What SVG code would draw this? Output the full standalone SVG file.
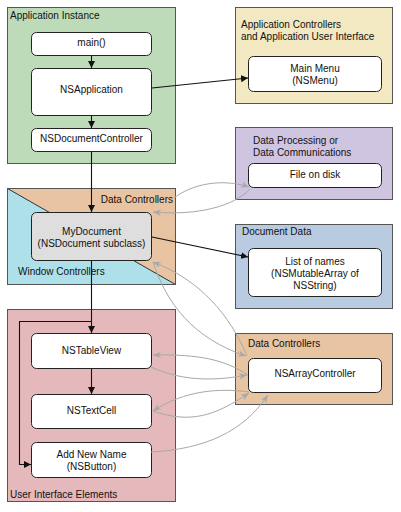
<svg xmlns="http://www.w3.org/2000/svg" width="401" height="512" viewBox="0 0 401 512">
<defs>
<marker id="ab" viewBox="0 0 10 10" refX="10" refY="5" markerWidth="7" markerHeight="7" markerUnits="userSpaceOnUse" orient="auto"><path d="M0,0 L10,5 L0,10 z" fill="#111"/></marker>
<marker id="ag" viewBox="0 0 10 10" refX="10" refY="5" markerWidth="8" markerHeight="8" markerUnits="userSpaceOnUse" orient="auto"><path d="M0,1 L10,5 L0,9 L3,5 z" fill="#a8a8a8"/></marker>
</defs>
<style>
.c{stroke:#555;stroke-width:1}
.n{fill:#fff;stroke:#222;stroke-width:1}
.t{font-family:"Liberation Sans",Arial,sans-serif;font-size:10px;fill:#111}
.m{text-anchor:middle}
.k{fill:none;stroke:#111;stroke-width:1.1}
.g{fill:none;stroke:#a8a8a8;stroke-width:1}
</style>
<rect width="401" height="512" fill="#fff"/>
<g id="app-instance">
<rect class="c" x="7.5" y="7.5" width="168" height="156" fill="#bedbb9"/>
<text class="t" x="10" y="18.5">Application Instance</text>
</g>
<g id="app-controllers">
<rect class="c" x="235.5" y="7.5" width="157" height="96" fill="#f2e8c1"/>
<text class="t" x="241" y="28">Application Controllers</text>
<text class="t" x="241" y="40">and Application User Interface</text>
</g>
<g id="data-processing">
<rect class="c" x="235.5" y="127.5" width="157" height="72" fill="#d0c5e1"/>
<text class="t" x="253" y="144">Data Processing or</text>
<text class="t" x="253" y="156">Data Communications</text>
</g>
<g id="document-data">
<rect class="c" x="235.5" y="224.5" width="157" height="84" fill="#b9cbe0"/>
<text class="t" x="242" y="235">Document Data</text>
</g>
<g id="controllers-split">
<rect x="7.5" y="188.5" width="168" height="96" fill="#e8c4a2"/>
<polygon points="7.5,188.5 7.5,284.5 175.5,284.5" fill="#aee0ea"/>
<line x1="7.5" y1="188.5" x2="175.5" y2="284.5" stroke="#333" stroke-width="1"/>
<rect class="c" x="7.5" y="188.5" width="168" height="96" fill="none"/>
<text class="t" x="173" y="203" text-anchor="end">Data Controllers</text>
<text class="t" x="18" y="275">Window Controllers</text>
</g>
<g id="ui-elements">
<rect class="c" x="7.5" y="309.5" width="168" height="192" fill="#e5b9bc"/>
<text class="t" x="10" y="498">User Interface Elements</text>
</g>
<g id="data-controllers">
<rect class="c" x="235.5" y="333.5" width="157" height="71" fill="#e8c4a2"/>
<text class="t" x="248" y="347">Data Controllers</text>
</g>
<g id="main">
<rect class="n" x="31.5" y="32.5" width="120" height="23" rx="5"/>
<text class="t m" x="91.5" y="46">main()</text>
</g>
<g id="nsapplication">
<rect class="n" x="31.5" y="68.5" width="120" height="47" rx="5"/>
<text class="t m" x="91.5" y="93">NSApplication</text>
</g>
<g id="nsdocumentcontroller">
<rect class="n" x="31.5" y="128.5" width="120" height="23" rx="5"/>
<text class="t m" x="91.5" y="142">NSDocumentController</text>
</g>
<g id="main-menu">
<rect class="n" x="248.5" y="56.5" width="133" height="35" rx="5"/>
<text class="t m" x="315" y="72">Main Menu</text>
<text class="t m" x="315" y="84">(NSMenu)</text>
</g>
<g id="file-on-disk">
<rect class="n" x="248.5" y="163.5" width="133" height="24" rx="5"/>
<text class="t m" x="315" y="178">File on disk</text>
</g>
<g id="mydocument">
<rect class="n" x="31.5" y="212.5" width="120" height="48" rx="5" fill="#dedede" style="fill:#dedede"/>
<text class="t m" x="91.5" y="235">MyDocument</text>
<text class="t m" x="91.5" y="247">(NSDocument subclass)</text>
</g>
<g id="list-of-names">
<rect class="n" x="248.5" y="248.5" width="133" height="48" rx="5"/>
<text class="t m" x="315" y="265">List of names</text>
<text class="t m" x="315" y="277">(NSMutableArray of</text>
<text class="t m" x="315" y="289">NSString)</text>
</g>
<g id="nstableview">
<rect class="n" x="31.5" y="333.5" width="120" height="35" rx="5"/>
<text class="t m" x="91.5" y="354">NSTableView</text>
</g>
<g id="nstextcell">
<rect class="n" x="31.5" y="394.5" width="120" height="34" rx="5"/>
<text class="t m" x="91.5" y="414">NSTextCell</text>
</g>
<g id="add-new-name">
<rect class="n" x="31.5" y="442.5" width="120" height="35" rx="5"/>
<text class="t m" x="91.5" y="458">Add New Name</text>
<text class="t m" x="91.5" y="470">(NSButton)</text>
</g>
<g id="nsarraycontroller">
<rect class="n" x="248.5" y="358.5" width="133" height="34" rx="5"/>
<text class="t m" x="315" y="377">NSArrayController</text>
</g>
<g id="connectors">
<path class="k" d="M91.5,56 L91.5,68" marker-end="url(#ab)"/>
<path class="k" d="M91.5,116 L91.5,128" marker-end="url(#ab)"/>
<path class="k" d="M152,88 L248,78" marker-end="url(#ab)"/>
<path class="k" d="M91.5,152 L91.5,212" marker-end="url(#ab)"/>
<path class="k" d="M152,237 L248,257" marker-end="url(#ab)"/>
<path class="k" d="M91.5,261 L91.5,333" marker-end="url(#ab)"/>
<path class="k" d="M91.5,321.5 L19.5,321.5 L19.5,464.5 L31,464.5" marker-end="url(#ab)"/>
<path class="k" d="M91.5,369 L91.5,394" marker-end="url(#ab)"/>
<path class="g" d="M174,198 C192,184 222,178 249,187" marker-end="url(#ag)"/>
<path class="g" d="M250,189 C234,206 198,216 153,212" marker-end="url(#ag)"/>
<path class="g" d="M247,356 C230,315 200,280 153,262" marker-end="url(#ag)"/>
<path class="g" d="M153,262 C166,302 192,338 246,356" marker-end="url(#ag)"/>
<path class="g" d="M248,375 C225,360 200,354 153,355" marker-end="url(#ag)"/>
<path class="g" d="M151,367 C186,383 220,380 247,375" marker-end="url(#ag)"/>
<path class="g" d="M249,392 C220,388 185,390 153,411" marker-end="url(#ag)"/>
<path class="g" d="M153,411 C190,424 215,416 249,393" marker-end="url(#ag)"/>
<path class="g" d="M151,452 C205,449 243,432 268,395" marker-end="url(#ag)"/>
</g>
</svg>
